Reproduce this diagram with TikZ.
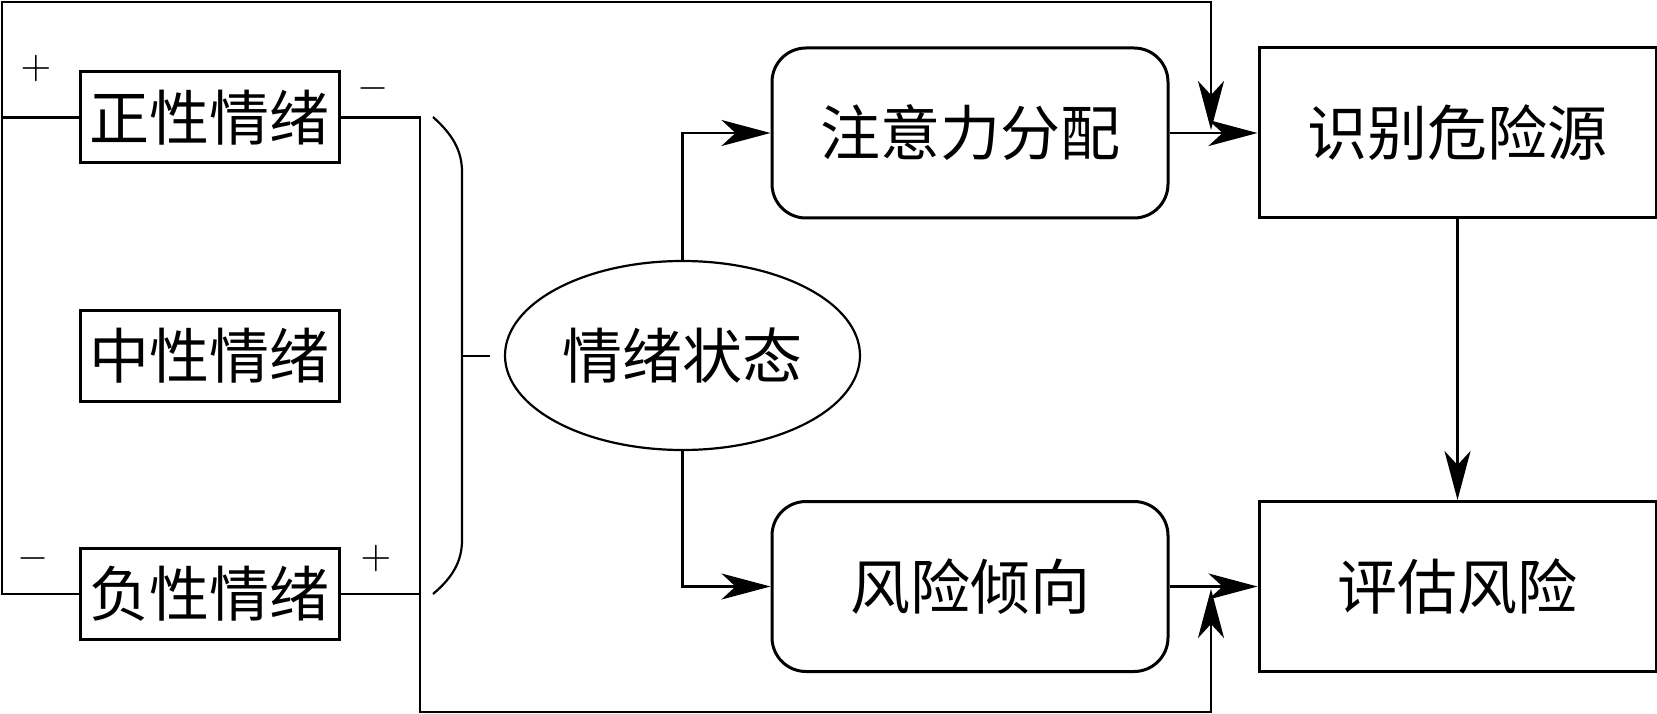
\documentclass[tikz,border=0pt]{standalone}
\usepackage{fontspec}
\newfontfamily\cjk{Noto Sans CJK SC}
\usepackage{graphicx}
\usepackage{tikz}
\usetikzlibrary{arrows.meta,shapes.geometric}

\tikzset{
  emobox/.style={draw,line width=3pt,inner sep=0pt,minimum width=259pt,minimum height=91pt,font=\cjk\fontsize{60}{66}\selectfont},
  procbox/.style={emobox,rounded corners=34pt,minimum width=396pt,minimum height=170pt},
  outbox/.style={emobox,minimum width=397pt,minimum height=170pt},
  stateell/.style={draw,ellipse,line width=2.2pt,inner sep=0pt,minimum width=355pt,minimum height=189pt,font=\cjk\fontsize{60}{66}\selectfont},
  sign/.style={inner sep=0pt},
  arr/.style={line width=2.8pt,-{Stealth[length=49pt,width=26pt,inset=14pt]}}
}

\begin{document}
\begin{tikzpicture}[x=1pt,y=-1pt,line width=2.8pt]
            \useasboundingbox (0,0) rectangle (1657,714);
            \node[emobox] (pos) at (209.5,117.5) {正性情绪};
            \node[emobox] (neu) at (209.5,356) {中性情绪};
            \node[emobox] (neg) at (209.5,594) {负性情绪};
            \node[stateell] (state) at (682.5,355.5) {情绪状态};
            \node[procbox] (attn) at (970,133) {注意力分配};
            \node[procbox] (tend) at (970,586.5) {风险倾向};
            \node[outbox] (ident) at (1457.5,133) {识别危险源};
            \node[outbox] (eval) at (1457.5,586.5) {评估风险};
            \node[sign] (posplus) at (36,69) {\scalebox{4}{$+$}};
            \node[sign] (posminus) at (373,89) {\scalebox{4}{$-$}};
            \node[sign] (negminus) at (33,558) {\scalebox{4}{$-$}};
            \node[sign] (negplus) at (376,558) {\scalebox{4}{$+$}};
            \coordinate (lt) at (2,2);
            \coordinate (rt) at (1211,2);
            \coordinate (topin) at (1211,130);
            \coordinate (lb) at (420,712);
            \coordinate (rb) at (1211,712);
            \coordinate (botin) at (1211,589);
            \coordinate (brace) at (462,356);
            % feedback loops
            \draw[arr] (pos.west) -| (lt) -- (rt) -- (topin);
            \draw (neg.west) -| (lt);
            \draw[arr] (pos.east) -| (lb) -- (rb) -- (botin);
            \draw (neg.east) -- (neg.east -| lb);
            % bracket
            \draw[line width=2.2pt] (433,117) .. controls (452,134) and (462,150) .. (462,172) -- (462,540) .. controls (462,562) and (452,578) .. (433,594);
            \draw[line width=2.2pt] (brace) -- ++(28,0);
            % main flow
            \draw[arr] (state.north) |- (attn.west);
            \draw[arr] (state.south) |- (tend.west);
            \draw[arr] (attn.east) -- (ident.west);
            \draw[arr] (tend.east) -- (eval.west);
            \draw[arr] (ident.south) -- (eval.north);
          \end{tikzpicture}
\end{document}
